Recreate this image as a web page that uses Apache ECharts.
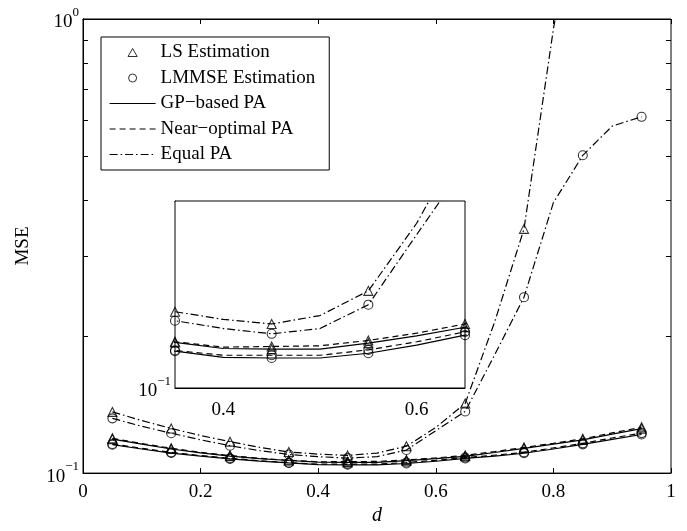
<!DOCTYPE html>
<html>
<head>
<meta charset="utf-8">
<script src="https://cdn.jsdelivr.net/npm/echarts@6/dist/echarts.min.js"></script>
<style>
html,body{margin:0;padding:0;background:#fff}
#chart{width:687px;height:531px}
</style>
</head>
<body>
<div id="chart"></div>
<script>
// d values of the curves (step 0.05); markers only at 0.05, 0.15, ...
var dVals = [0.05,0.10,0.15,0.20,0.25,0.30,0.35,0.40,0.45,0.50,0.55,0.60,0.65,0.70,0.75,0.80,0.85,0.90,0.95];
var markD = [0.05,0.15,0.25,0.35,0.45,0.55,0.65,0.75,0.85,0.95];

// LS estimation
var lsGP    = [0.1188,0.1158,0.1130,0.1108,0.1090,0.1076,0.1066,0.1057,0.1056,0.1056,0.1065,0.1076,0.1089,0.1110,0.1134,0.1158,0.1183,0.1218,0.1253];
var lsNear  = [0.1193,0.1162,0.1134,0.1111,0.1093,0.1078,0.1067,0.1059,0.1060,0.1061,0.1069,0.1080,0.1094,0.1115,0.1139,0.1163,0.1190,0.1226,0.1262];
var lsEqual = [0.1364,0.1305,0.1254,0.1210,0.1173,0.1140,0.1113,0.1101,0.1094,0.1107,0.1146,0.1260,0.1424,0.215,0.345,0.95,2.2,null,null];
// LMMSE estimation
var mmseGP    = [0.1155,0.1130,0.1107,0.1090,0.1075,0.1063,0.1053,0.1044,0.1043,0.1043,0.1050,0.1062,0.1077,0.1090,0.1106,0.1130,0.1157,0.1187,0.1216];
var mmseNear  = [0.1159,0.1134,0.1111,0.1093,0.1078,0.1065,0.1054,0.1047,0.1047,0.1047,0.1055,0.1067,0.1082,0.1095,0.1111,0.1136,0.1163,0.1195,0.1225];
var mmseEqual = [0.1320,0.1268,0.1224,0.1184,0.1149,0.1121,0.1099,0.1087,0.1079,0.1087,0.1124,0.124,0.1367,0.182,0.244,0.394,0.501,0.581,0.609];

var yMinor = [0.2,0.3,0.4,0.5,0.6,0.7,0.8,0.9];
var insetXTicks = [0.4,0.6];

var FONT = 'Liberation Serif';
var SOLID = 'solid', DASH = [6,4], DASHDOT = [8,3,1.5,3];

var myChart = echarts.init(document.getElementById('chart'));

function pairs(vals){
	return dVals.map(function(d,i){ return [d, vals[i]]; });
}
function marks(list){
	var out = [];
	list.forEach(function(vals){
		dVals.forEach(function(d,i){
			if (markD.indexOf(d) >= 0 && vals[i] != null) out.push([d, vals[i]]);
		});
	});
	return out;
}
function lineS(name, vals, dash, ax){
	return {
		name:name, type:'line', xAxisIndex:ax[0], yAxisIndex:ax[1],
		data:pairs(vals), symbol:'none', clip:true, silent:true,
		lineStyle:{color:'#000', width:1.2, type:dash},
		itemStyle:{color:'transparent', borderColor:'transparent', borderWidth:0, opacity:0},
		z:3
	};
}
function markS(name, sym, list, ax){
	return {
		name:name, type:'scatter', xAxisIndex:ax[0], yAxisIndex:ax[1],
		data:marks(list), symbol:sym, symbolSize:9, clip:true, silent:true,
		itemStyle:{color:'transparent', borderColor:'#000', borderWidth:1.1},
		z:4
	};
}
function seriesFor(ax){
	return [
		markS('LS Estimation','triangle',[lsGP,lsNear,lsEqual],ax),
		markS('LMMSE Estimation','circle',[mmseGP,mmseNear,mmseEqual],ax),
		lineS('GP−based PA',lsGP,SOLID,ax),
		lineS('GP−based PA',mmseGP,SOLID,ax),
		lineS('Near−optimal PA',lsNear,DASH,ax),
		lineS('Near−optimal PA',mmseNear,DASH,ax),
		lineS('Equal PA',lsEqual,DASHDOT,ax),
		lineS('Equal PA',mmseEqual,DASHDOT,ax)
	];
}

var richPow = {
	b:{fontFamily:FONT, fontSize:19, color:'#000', padding:[7,0,0,0]},
	s:{fontFamily:FONT, fontSize:13, color:'#000', verticalAlign:'top'}
};
function powLabel(v){
	if (Math.abs(v-1) < 1e-9) return '{b|10}{s|0}';
	if (Math.abs(v-0.1) < 1e-9) return '{b|10}{s|−1}';
	return '';
}
var axLine = {show:true, lineStyle:{color:'#000', width:1}};
var tickIn = {show:true, inside:true, length:5, lineStyle:{color:'#000'}};

var options = {
	animation:false,
	backgroundColor:'#fff',
	grid:[
		{left:83, right:16, top:19, bottom:48, show:true, borderColor:'#000', borderWidth:1, backgroundColor:'#fff'},
		{left:175, top:201, width:290, height:187, show:true, borderColor:'#000', borderWidth:1, backgroundColor:'#fff', z:5}
	],
	legend:{
		data:[
			{name:'LS Estimation', icon:'path://M5,0L10,8.7L0,8.7Z'},
			{name:'LMMSE Estimation'},
			{name:'GP−based PA'},
			{name:'Near−optimal PA'},
			{name:'Equal PA'}
		],
		orient:'vertical', left:101, top:37,
		padding:[6,14,6,8], itemGap:6.5, itemWidth:46, itemHeight:8,
		symbolKeepAspect:true,
		borderColor:'#000', borderWidth:1, backgroundColor:'#fff',
		selectedMode:false,
		textStyle:{fontFamily:FONT, fontSize:19, color:'#000', lineHeight:19},
		itemStyle:{borderWidth:1},
		lineStyle:{width:1.2},
		z:10
	},
	xAxis:[
		{gridIndex:0, type:'value', min:0, max:1, interval:0.2, position:'bottom',
			axisLine:axLine, axisTick:tickIn, splitLine:{show:false},
			axisLabel:{fontFamily:FONT, fontSize:19, color:'#000', margin:9},
			name:'d', nameLocation:'middle', nameGap:30,
			nameTextStyle:{fontFamily:FONT, fontSize:20, fontStyle:'italic', color:'#000'}},
		{gridIndex:0, type:'value', min:0, max:1, interval:0.2, position:'top',
			axisLine:axLine, axisTick:tickIn, axisLabel:{show:false}, splitLine:{show:false}},
		{gridIndex:1, type:'value', min:0.35, max:0.65, position:'bottom',
			axisLine:axLine, splitLine:{show:false},
			axisTick:{show:true, inside:true, length:5, lineStyle:{color:'#000'}, customValues:insetXTicks},
			axisLabel:{fontFamily:FONT, fontSize:19, color:'#000', margin:13, customValues:insetXTicks}},
		{gridIndex:1, type:'value', min:0.35, max:0.65, position:'top',
			axisLine:axLine, splitLine:{show:false}, axisLabel:{show:false},
			axisTick:{show:true, inside:true, length:5, lineStyle:{color:'#000'}, customValues:insetXTicks}}
	],
	yAxis:[
		{gridIndex:0, type:'log', logBase:10, min:0.1, max:1, position:'left',
			axisLine:axLine, axisTick:{show:false}, splitLine:{show:false},
			axisLabel:{formatter:powLabel, rich:richPow, margin:4},
			name:'MSE', nameLocation:'middle', nameGap:50,
			nameTextStyle:{fontFamily:FONT, fontSize:19, color:'#000'}},
		{gridIndex:0, type:'log', logBase:10, min:0.1, max:1, position:'right',
			axisLine:axLine, axisTick:{show:false}, axisLabel:{show:false}, splitLine:{show:false}},
		{gridIndex:1, type:'log', logBase:10, min:0.1, max:0.13, position:'left',
			axisLine:axLine, axisTick:{show:false}, splitLine:{show:false},
			axisLabel:{formatter:powLabel, rich:richPow, margin:4, showMaxLabel:false}}
	],
	series:seriesFor([0,0]).concat(seriesFor([2,2]).map(function(s){ s.z += 6; return s; }))
};
myChart.setOption(options);

// minor ticks of the log axis at 0.2 ... 0.9, both sides, placed with the axis scale
var xl = myChart.convertToPixel({xAxisIndex:0}, 0);
var xr = myChart.convertToPixel({xAxisIndex:0}, 1);
var ticks = [];
yMinor.forEach(function(v){
	var y = Math.round(myChart.convertToPixel({yAxisIndex:0}, v)) + 0.5;
	ticks.push({type:'line', shape:{x1:xl, y1:y, x2:xl+5, y2:y}, style:{stroke:'#000', lineWidth:1}, z:2, silent:true});
	ticks.push({type:'line', shape:{x1:xr-5, y1:y, x2:xr, y2:y}, style:{stroke:'#000', lineWidth:1}, z:2, silent:true});
});
myChart.setOption({graphic:ticks});
</script>
</body>
</html>
